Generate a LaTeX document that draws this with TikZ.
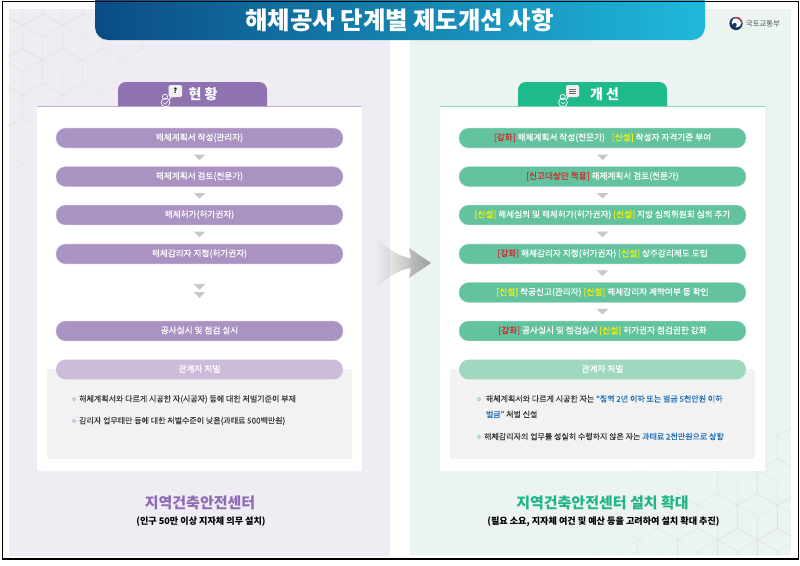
\documentclass[tikz,border=0pt]{standalone}
\usepackage{fontspec}
\setmainfont{Noto Sans CJK KR}
\newfontfamily\medfont[FakeBold=0.35]{Noto Sans CJK KR}
\usetikzlibrary{calc,fadings}
\definecolor{panelL}{HTML}{EFECF4}
\definecolor{panelR}{HTML}{EBF4F1}
\definecolor{tabL}{HTML}{8F72B0}
\definecolor{tabR}{HTML}{1FBA8C}
\definecolor{pillL}{HTML}{AA93C3}
\definecolor{pillR}{HTML}{63C39F}
\definecolor{softL}{HTML}{CBBCDC}
\definecolor{softR}{HTML}{A0D8BF}
\definecolor{ruleL}{HTML}{C3ABDC}
\definecolor{ruleR}{HTML}{7FDCC0}
\definecolor{boxgray}{HTML}{F2F2F3}
\definecolor{trigray}{HTML}{C8C8C8}
\definecolor{kred}{HTML}{D3242C}
\definecolor{kyel}{HTML}{F6F200}
\definecolor{kblue}{HTML}{1F6DB6}
\definecolor{headL}{HTML}{8E6CB5}
\definecolor{headR}{HTML}{1FB587}
\definecolor{bodytxt}{HTML}{3A3A3A}
\definecolor{navy}{HTML}{12315F}
\definecolor{ltred}{HTML}{C9304A}
\definecolor{banA}{HTML}{0A4C85}
\definecolor{banB}{HTML}{1288BC}
\definecolor{banC}{HTML}{20B9DB}
\newcommand{\fsz}[1]{\fontsize{#1}{#1}\selectfont}
\newcommand{\rd}[1]{\textcolor{kred}{#1}}
\newcommand{\yl}[1]{\textcolor{kyel}{#1}}
\newcommand{\bl}[1]{\textcolor{kblue}{#1}}
\newcommand{\tridown}[1]{\fill[trigray] ($(#1)+(-5.8,-2.8)$) -- ($(#1)+(5.8,-2.8)$) -- ($(#1)+(0,2.8)$) -- cycle;}
\newcommand{\hexcell}[3]{\draw[hexline,opacity=#3,shift={(#1,#2)}] (0,-23.1)--(20,-11.55)--(20,11.55)--(0,23.1)--(-20,11.55)--(-20,-11.55)--cycle (0,0)--(0,23.1) (0,0)--(20,-11.55) (0,0)--(-20,-11.55);}
\tikzset{
  pillbase/.style={rectangle,rounded corners=9.7pt,minimum width=287pt,minimum height=19.8pt,inner sep=0pt,text=white,font=\medfont\fsz{8.65},text height=6.5pt,text depth=1.5pt},
  pillL/.style={pillbase,fill=pillL,draw=softL,line width=.4pt},
  pillR/.style={pillbase,fill=pillR,draw=softR,line width=.4pt},
  softpillL/.style={pillbase,fill=softL},
  softpillR/.style={pillbase,fill=softR},
  tabtext/.style={text=white,font=\fsz{14}\bfseries,inner sep=0pt},
  bullettext/.style={anchor=west,inner sep=0pt,text=bodytxt,font=\medfont\fsz{8},text height=6.5pt,text depth=1.5pt},
  headtext/.style={inner sep=0pt,font=\fsz{15}\bfseries},
  subtext/.style={inner sep=0pt,text=black,font=\fsz{9.1}\bfseries},
  hexline/.style={draw=black!12,line width=.55pt},
}
\begin{document}
\begin{tikzpicture}[x=1pt,y=-1pt]
\useasboundingbox (0,0) rectangle (800,565);
\fill[white] (0,0) rectangle (800,565);
% panels
\fill[panelL] (8.5,9) rectangle (390,556);
\fill[panelR] (410,9) rectangle (791,555);
% hexagon textures
\begin{scope}
\clip (8.5,9) rectangle (390,556);
\foreach \j in {-1,...,5}{
 \foreach \i in {-1,...,5}{
  \pgfmathsetmacro{\cx}{42.7+40*\i+20*Mod(\j,2)}
  \pgfmathsetmacro{\cy}{37+34.65*\j}
  \pgfmathsetmacro{\o}{max(0,min(1,1.25-(\cx-8)/190-(\cy-9)/165))*0.8}
  \hexcell{\cx}{\cy}{\o}
 }}
\end{scope}
\begin{scope}
\clip (410,9) rectangle (791,555);
\foreach \j in {-4,...,2}{
 \foreach \i in {-4,...,2}{
  \pgfmathsetmacro{\cx}{737.5+40*\i+20*Mod(\j,2)}
  \pgfmathsetmacro{\cy}{482+34.65*\j}
  \pgfmathsetmacro{\o}{max(0,min(1,1.25-(791-\cx)/190-(555-\cy)/150))*0.8}
  \hexcell{\cx}{\cy}{\o}
 }}
\end{scope}
% banner
\shade[left color=banA,middle color=banB,right color=banC,rounded corners=13pt] (95,-20) rectangle (705,40);
\node[inner sep=0pt,text=white,font=\fsz{24.4}\bfseries] (title) at (399.5,20) {해체공사 단계별 제도개선 사항};
% logo
\fill[navy] (736,23.5) circle (6.6);
\fill[white] (736.6,22.6) circle (4.9);
\draw[ltred,line width=1.5pt] (736,23.5) ++(-10:5.7) arc[start angle=-10,end angle=-100,radius=5.7];
\fill[navy] (734.6,25) circle (2.1);
\node[inner sep=0pt,text=black!65,font=\fsz{7.4}] (ministry) at (763,24) {국토교통부};
% white cards
\fill[white] (37,106) rectangle (362,471);
\fill[white] (440,106) rectangle (765,471);
\draw[ruleL,line width=1pt] (37,106.2) -- (362,106.2);
\draw[ruleR,line width=1pt] (440,106.2) -- (765,106.2);
% tabs
\fill[tabL] (118,106) [rounded corners=8pt] -- (118,82) -- (267,82) [sharp corners] -- (267,106) -- cycle;
\fill[tabR] (518,106) [rounded corners=8pt] -- (518,82) -- (667,82) [sharp corners] -- (667,106) -- cycle;
\node[tabtext] (hyeon) at (203,94.5) {현 황};
\node[tabtext] (gaeseon) at (604.5,94.5) {개 선};
% icon left
\fill[black!6,rounded corners=1.5pt] (168.5,85) rectangle (182,97);
\fill[black!6] (170,96) -- (173,96) -- (169,100) -- cycle;
\node[inner sep=0pt,font=\fsz{7}\bfseries,text=black] (qmark) at (175.3,91) {?};
\draw[white,line width=.7pt] (165,96.8) circle (2.6);
\draw[white,line width=.7pt] (165.5,102.5) circle (4.4);
\draw[white,line width=.6pt] (163.3,102.5) -- (165,104.3) -- (167.8,101);
% icon right
\fill[black!6,rounded corners=1.5pt] (566,85) rectangle (579,97);
\fill[black!6] (567,96) -- (570,96) -- (566,100) -- cycle;
\draw[black!60,line width=.8pt] (569,89) -- (576,89) (569,91) -- (576,91) (569,93) -- (576,93);
\draw[white,line width=.7pt] (562.7,97) circle (2.6);
\draw[white,line width=.7pt] (563,102.5) circle (4.4);
\draw[white,line width=.6pt] (561,102) -- (563,104.2) -- (565.2,102);
% gray boxes
\fill[boxgray,rounded corners=2pt] (47,369) rectangle (352,459);
\fill[boxgray,rounded corners=2pt] (450,369) rectangle (755,459);
% left pills
\node[pillL] (l1) at (199.5,138) {해체계획서 작성(관리자)};
\node[pillL] (l2) at (199.5,176.6) {해체계획서 검토(전문가)};
\node[pillL] (l3) at (199.5,215) {해체허가(허가권자)};
\node[pillL] (l4) at (199.5,254) {해체감리자 지정(허가권자)};
\node[pillL] (l5) at (199.5,331) {공사실시 및 점검 실시};
\node[softpillL] (l6) at (199.5,369.5) {관계자 처벌};
\tridown{$(l1.south)!.5!(l2.north)$}
\tridown{$(l2.south)!.5!(l3.north)$}
\tridown{$(l3.south)!.5!(l4.north)$}
\coordinate (ld1) at (199.5,287);
\coordinate (ld2) at (199.5,295);
\tridown{ld1}
\tridown{ld2}
% right pills
\node[pillR] (r1) at (602.5,138) {\rd{[강화]} 해체계획서 작성(전문가)\hspace{7pt}\yl{[신설]} 작성자 자격기준 부여};
\node[pillR] (r2) at (602.5,176.6) {\rd{[신고대상만 적용]} 해체계획서 검토(전문가)};
\node[pillR] (r3) at (602.5,215) {\yl{[신설]} 해체심의 및 해체허가(허가권자) \yl{[신설]} 지방 심의위원회 심의 추가};
\node[pillR] (r4) at (602.5,254) {\rd{[강화]} 해체감리자 지정(허가권자) \yl{[신설]} 상주감리제도 도입};
\node[pillR] (r5) at (602.5,292.5) {\yl{[신설]} 착공신고(관리자) \yl{[신설]} 해체감리자 계약여부 등 확인};
\node[pillR] (r6) at (602.5,331) {\rd{[강화]} 공사실시 및 점검실시 \yl{[신설]} 허가권자 점검권한 강화};
\node[softpillR] (r7) at (602.5,369.5) {관계자 처벌};
\foreach \a/\b in {r1/r2,r2/r3,r3/r4,r4/r5,r5/r6}{\tridown{$(\a.south)!.5!(\b.north)$}}
% bullets left
\foreach \y in {399.3,421}{\draw[pillL,line width=1pt,fill=white!60!softL] (74,\y) circle (1.7);}
\node[bullettext] (lt1) at (79,399.3) {해체계획서와 다르게 시공한 자(시공자) 등에 대한 처벌기준이 부재};
\node[bullettext] (lt2) at (79,421) {감리자 업무태만 등에 대한 처벌수준이 낮음(과태료 500백만원)};
% bullets right
\foreach \y in {399.3,437}{\draw[pillR,line width=1pt,fill=white!60!softR] (479,\y) circle (1.7);}
\node[bullettext] (rt1) at (485.7,399.3) {해체계획서와 다르게 시공한 자는 \bl{“징역 2년 이하 또는 벌금 5천만원 이하}};
\node[bullettext] (rt2) at (485.7,414.8) {\bl{벌금”} 처벌 신설};
\node[bullettext] (rt3) at (484,437) {해체감리자의 업무를 성실히 수행하지 않은 자는 \bl{과태료 2천만원으로 상향}};
% footers
\node[headtext,text=headL] (lh) at (200,503) {지역건축안전센터};
\node[subtext] (ls) at (201,522) {(인구 50만 이상 지자체 의무 설치)};
\node[headtext,text=headR] (rh) at (602.5,503) {지역건축안전센터 설치 확대};
\node[subtext] (rs) at (603.5,522) {(필요 소요, 지자체 여건 및 예산 등을 고려하여 설치 확대 추진)};
% big arrow
\fill[black!38,path fading=west] (375,235) .. controls (385,247) and (397,256) .. (411,258.5) -- (409,248) -- (431,263) -- (409,278) -- (411,268) .. controls (397,270) and (385,279) .. (375,290) -- cycle;
% outer frame
\draw[black,line width=1.2pt] (2.5,1.5) rectangle (798.7,559);
\end{tikzpicture}
\end{document}
